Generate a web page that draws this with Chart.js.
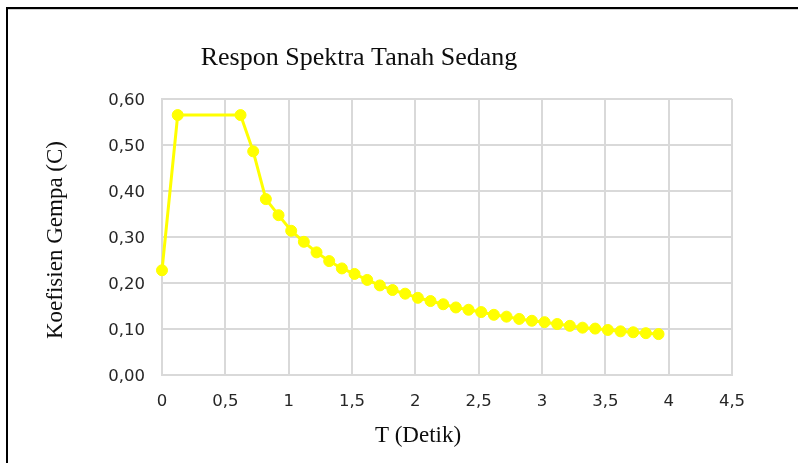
<!DOCTYPE html>
<html>
<head>
<meta charset="utf-8">
<title>Respon Spektra Tanah Sedang</title>
<script src="https://cdn.jsdelivr.net/npm/chart.js@4.4.1/dist/chart.umd.min.js"></script>
<style>
    html, body {
        margin: 0;
        padding: 0;
        background: #fff;
        overflow: hidden;
    }
    canvas#chart {
        display: block;
    }
</style>
</head>
<body>
<canvas id="chart" width="798" height="463"></canvas>
<script>
    /*
    ----------------------------------
         Data
    ----------------------------------
    */

    var chartTitle = 'Respon Spektra Tanah Sedang';
    var xTitle = 'T (Detik)';
    var yTitle = 'Koefisien Gempa (C)';

    // periode T (detik)
    var periods = [
        0, 0.124, 0.62, 0.72, 0.82, 0.92, 1.02, 1.12, 1.22, 1.32, 1.42, 1.52,
        1.62, 1.72, 1.82, 1.92, 2.02, 2.12, 2.22, 2.32, 2.42, 2.52, 2.62, 2.72,
        2.82, 2.92, 3.02, 3.12, 3.22, 3.32, 3.42, 3.52, 3.62, 3.72, 3.82, 3.92
    ];

    // koefisien gempa C
    var coefficients = [
        0.227, 0.565, 0.565, 0.486, 0.382, 0.347, 0.313, 0.289, 0.266, 0.247, 0.231, 0.219,
        0.206, 0.194, 0.184, 0.176, 0.167, 0.160, 0.153, 0.146, 0.141, 0.136, 0.130, 0.126,
        0.121, 0.117, 0.114, 0.110, 0.106, 0.102, 0.100, 0.097, 0.094, 0.092, 0.090, 0.088
    ];

    var xTicks = [0, 0.5, 1, 1.5, 2, 2.5, 3, 3.5, 4, 4.5];
    var yTicks = [0, 0.1, 0.2, 0.3, 0.4, 0.5, 0.6];

    var points = periods.map((t, i) => ({ x: t, y: coefficients[i] }));

    /*
    ----------------------------------
         Frame + titles
    ----------------------------------
    */

    const frameAndTitles = {
        id: 'frameAndTitles',
        beforeDraw(chart) {
            const ctx = chart.ctx;
            ctx.save();
            ctx.fillStyle = '#fff';
            ctx.fillRect(0, 0, chart.width, chart.height);
            // black frame left + top
            ctx.fillStyle = '#000';
            ctx.fillRect(6, 7, 2, chart.height - 7);
            ctx.fillRect(6, 7, chart.width - 6, 2);
            ctx.fillStyle = '#d0d0d0';
            ctx.fillRect(8, 9, chart.width - 8, 1);
            ctx.restore();
        },
        afterDraw(chart) {
            const ctx = chart.ctx;
            ctx.save();
            ctx.fillStyle = '#0d0d0d';
            ctx.textAlign = 'center';
            ctx.textBaseline = 'alphabetic';

            ctx.font = '26px "Liberation Serif"';
            ctx.fillText(chartTitle, 359, 65);

            ctx.font = '23px "Liberation Serif"';
            ctx.fillText(xTitle, 418, 442);

            ctx.translate(62, 240);
            ctx.rotate(-Math.PI / 2);
            ctx.fillText(yTitle, 0, 0);
            ctx.restore();
        }
    };

    /*
    ----------------------------------
         Line chart
    ----------------------------------
    */

    new Chart(document.getElementById('chart'), {
        type: 'line',
        data: {
            datasets: [{
                label: yTitle,
                data: points,
                borderColor: '#ffff00',
                backgroundColor: '#ffff00',
                borderWidth: 3,
                pointRadius: 5.5,
                pointBorderWidth: 1,
                pointBackgroundColor: '#ffff00',
                pointBorderColor: '#ffff00',
                tension: 0,
                fill: false,
                clip: false
            }]
        },
        options: {
            responsive: false,
            animation: false,
            devicePixelRatio: 1,
            layout: {
                padding: { left: 0, right: 66, top: 99, bottom: 0 }
            },
            plugins: {
                legend: { display: false },
                title: { display: false },
                tooltip: { enabled: false }
            },
            scales: {
                x: {
                    type: 'linear',
                    min: 0,
                    max: 4.5,
                    afterFit(scale) {
                        scale.height = 463 - 374.5;
                    },
                    afterBuildTicks(scale) {
                        scale.ticks = xTicks.map(v => ({ value: v }));
                    },
                    grid: {
                        color: '#d9d9d9',
                        lineWidth: 2,
                        drawTicks: false
                    },
                    border: {
                        color: '#d9d9d9',
                        width: 2
                    },
                    ticks: {
                        padding: 17,
                        color: '#262626',
                        font: { family: 'DejaVu Sans', size: 16.5 },
                        callback: (value) => String(value).replace('.', ',')
                    }
                },
                y: {
                    min: 0,
                    max: 0.6,
                    afterFit(scale) {
                        scale.width = 162;
                    },
                    afterBuildTicks(scale) {
                        scale.ticks = yTicks.map(v => ({ value: v }));
                    },
                    grid: {
                        color: '#d9d9d9',
                        lineWidth: 2,
                        drawTicks: false
                    },
                    border: {
                        color: '#d9d9d9',
                        width: 2
                    },
                    ticks: {
                        padding: 17,
                        labelOffset: 2,
                        color: '#262626',
                        font: { family: 'DejaVu Sans', size: 16.5 },
                        callback: (value) => value.toFixed(2).replace('.', ',')
                    }
                }
            }
        },
        plugins: [frameAndTitles]
    });
</script>
</body>
</html>
